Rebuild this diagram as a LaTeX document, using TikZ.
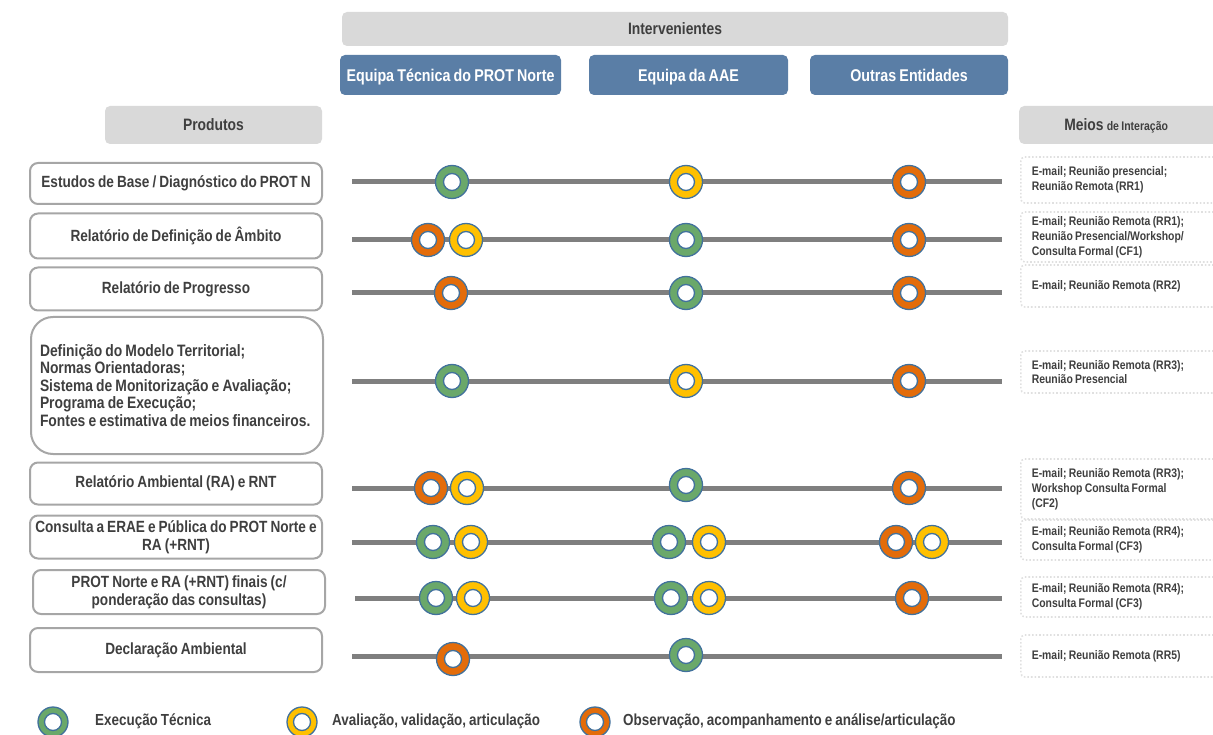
\documentclass[tikz,border=0pt]{standalone}
\usepackage{fontspec}
\setmainfont{Liberation Sans}[FakeStretch=0.84, WordSpace=0.8]
\frenchspacing
\definecolor{txt}{HTML}{3F3F3F}
\definecolor{hdrgray}{HTML}{D9D9D9}
\definecolor{teamblue}{HTML}{5A7EA6}
\definecolor{boxedge}{HTML}{A6A6A6}
\definecolor{track}{HTML}{7F7F7F}
\definecolor{ring}{HTML}{41719C}
\definecolor{cgreen}{HTML}{6AA86A}
\definecolor{cyellow}{HTML}{FFC000}
\definecolor{corange}{HTML}{E36C0A}
\definecolor{dotedge}{HTML}{E0E0E0}
\begin{document}
\begin{tikzpicture}[x=1pt,y=-1pt,
  every node/.style={font=\bfseries, text=txt, inner sep=0pt},
  hdr/.style={fill=hdrgray, rounded corners=5pt, text height=11.8pt, text depth=0pt,
    font=\bfseries\fontsize{16.5}{18}\selectfont},
  team/.style={fill=teamblue, rounded corners=5pt, text=white, minimum height=40pt,
    text height=12.2pt, text depth=0pt, font=\bfseries\fontsize{17}{19}\selectfont},
  prod/.style={draw=boxedge, line width=2pt, fill=white, rounded corners=8pt,
    minimum width=292pt, align=center, font=\bfseries\fontsize{16.2}{18}\selectfont},
  meio/.style={draw=dotedge, line width=1.6pt, dotted, rounded corners=4pt,
    anchor=west, minimum width=200pt, align=flush left, text width=182pt,
    inner xsep=11pt, font=\bfseries\fontsize{12.4}{14.8}\selectfont},
  trackline/.style={draw=track, line width=5pt},
  mark/.style={circle, draw=ring, line width=1.3pt, minimum size=33pt, fill=#1,
    path picture={\draw[ring, line width=1.3pt, fill=white]
      (path picture bounding box.center) circle (8.5pt);}},
  legtxt/.style={anchor=west, font=\bfseries\fontsize{16}{18}\selectfont}
]
\useasboundingbox (0,0) rectangle (1213,735);

% column headers
\node[hdr, minimum width=666pt, minimum height=34pt] (interv) at (675,29) {Intervenientes};
\node[team, minimum width=221pt] (tecnica) at (450.5,75) {Equipa Técnica do PROT Norte};
\node[team, minimum width=199pt] (aae) at (688.5,75) {Equipa da AAE};
\node[team, minimum width=198pt] (outras) at (909,75) {Outras Entidades};
\node[hdr, minimum width=217pt, minimum height=38pt] (produtos) at (213.5,125) {Produtos};
\node[hdr, minimum width=200pt, minimum height=38pt, anchor=west] (meios) at (1019,125)
  {\hspace*{-6pt}Meios {\fontsize{12.5}{14}\selectfont de Interação}};

% product boxes
\node[prod, minimum height=41pt] (p1) at (176,183.5) {Estudos de Base / Diagnóstico do PROT N};
\node[prod, minimum height=45pt] (p2) at (176,236) {Relatório de Definição de Âmbito};
\node[prod, minimum height=43pt] (p3) at (176,289) {Relatório de Progresso};
\node[prod, minimum height=137pt, rounded corners=22pt, align=flush left, text width=274pt,
  font=\bfseries\fontsize{16.5}{17.4}\selectfont]
  (p4) at (177,385.5) {Definição do Modelo Territorial;\\Normas Orientadoras;\\Sistema de Monitorização e Avaliação;\\Programa de Execução;\\Fontes e estimativa de meios financeiros.};
\node[prod, minimum height=42pt] (p5) at (176,483.5) {Relatório Ambiental (RA) e RNT};
\node[prod, minimum height=43pt] (p6) at (176,537) {Consulta a ERAE e Pública do PROT Norte e\\RA (+RNT)};
\node[prod, minimum height=44pt] (p7) at (179,592) {PROT Norte e RA (+RNT) finais (c/\\ponderação das consultas)};
\node[prod, minimum height=44pt] (p8) at (176,650) {Declaração Ambiental};

% timeline tracks
\foreach \i/\y/\xa in {1/182/352, 2/240/352, 3/293/352, 4/381/352, 5/488/352, 6/542/352, 7/598/355, 8/656/352} {
  \coordinate (s\i) at (\xa,\y);
  \coordinate (e\i) at (1002,\y);
  \draw[trackline] (s\i) -- (e\i);
}

% participation markers
\node[mark=cgreen] (m1a) at (452,182) {};
\node[mark=cyellow] (m1b) at (686,182) {};
\node[mark=corange] (m1c) at (909,182) {};

\node[mark=corange] (m2a) at (428,240) {};
\node[mark=cyellow] (m2b) at (466,240) {};
\node[mark=cgreen] (m2c) at (686,240) {};
\node[mark=corange] (m2d) at (909,240) {};

\node[mark=corange] (m3a) at (451,293) {};
\node[mark=cgreen] (m3b) at (686,293) {};
\node[mark=corange] (m3c) at (909,293) {};

\node[mark=cgreen] (m4a) at (452,381) {};
\node[mark=cyellow] (m4b) at (686,381) {};
\node[mark=corange] (m4c) at (909,381) {};

\node[mark=corange] (m5a) at (431,488) {};
\node[mark=cyellow] (m5b) at (467,488) {};
\node[mark=cgreen] (m5c) at (686,485) {};
\node[mark=corange] (m5d) at (909,488) {};

\node[mark=cgreen] (m6a) at (433,542) {};
\node[mark=cyellow] (m6b) at (471,542) {};
\node[mark=cgreen] (m6c) at (669,542) {};
\node[mark=cyellow] (m6d) at (709,542) {};
\node[mark=corange] (m6e) at (896,542) {};
\node[mark=cyellow] (m6f) at (932,542) {};

\node[mark=cgreen] (m7a) at (436,598) {};
\node[mark=cyellow] (m7b) at (473,598) {};
\node[mark=cgreen] (m7c) at (671,598) {};
\node[mark=cyellow] (m7d) at (709,598) {};
\node[mark=corange] (m7e) at (912,598) {};

\node[mark=corange] (m8a) at (453,659) {};
\node[mark=cgreen] (m8b) at (686,655) {};

% means of interaction
\node[meio, minimum height=46pt] (i1) at (1020,180) {E-mail; Reunião presencial;\\Reunião Remota (RR1)};
\node[meio, minimum height=50pt] (i2) at (1020,237) {E-mail; Reunião Remota (RR1);\\Reunião Presencial/Workshop/\\Consulta Formal (CF1)};
\node[meio, minimum height=42pt] (i3) at (1020,286) {E-mail; Reunião Remota (RR2)};
\node[meio, minimum height=42pt] (i4) at (1020,372) {E-mail; Reunião Remota (RR3);\\Reunião Presencial};
\node[meio, minimum height=60pt] (i5) at (1020,489) {E-mail; Reunião Remota (RR3);\\Workshop Consulta Formal\\(CF2)};
\node[meio, minimum height=40pt] (i6) at (1020,540) {E-mail; Reunião Remota (RR4);\\Consulta Formal (CF3)};
\node[meio, minimum height=40pt] (i7) at (1020,597) {E-mail; Reunião Remota (RR4);\\Consulta Formal (CF3)};
\node[meio, minimum height=42pt] (i8) at (1020,656) {E-mail; Reunião Remota (RR5)};

% legend
\node[mark=cgreen, minimum size=30pt] (l1) at (53,722) {};
\node[legtxt] (t1) at (95,721) {Execução Técnica};
\node[mark=cyellow, minimum size=30pt] (l2) at (302,722) {};
\node[legtxt] (t2) at (332,721) {Avaliação, validação, articulação};
\node[mark=corange, minimum size=30pt] (l3) at (595,722) {};
\node[legtxt] (t3) at (623,721) {Observação, acompanhamento e análise/articulação};
\end{tikzpicture}
\end{document}
